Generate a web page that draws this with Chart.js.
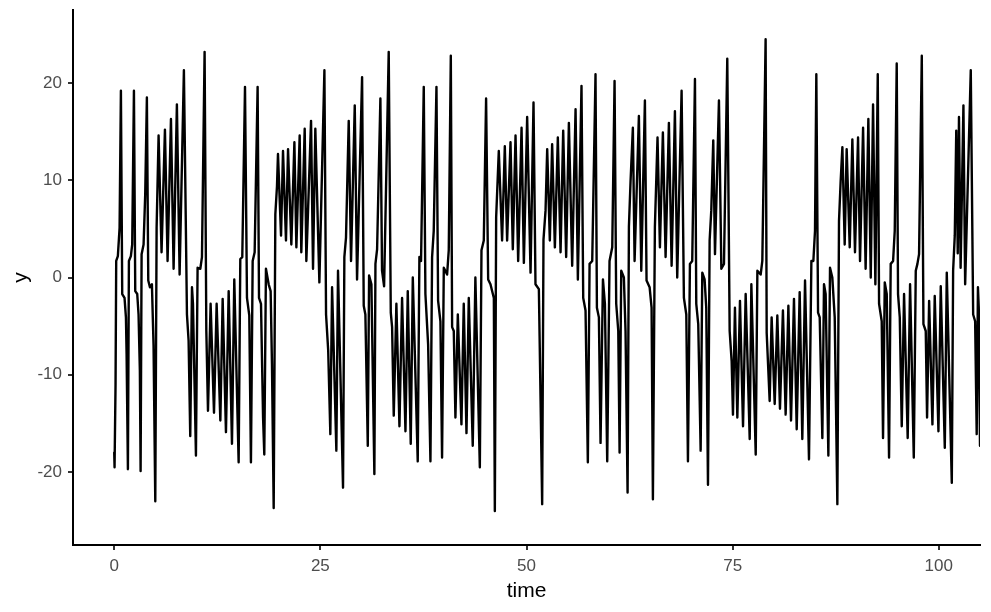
<!DOCTYPE html>
<html>
<head>
<meta charset="utf-8">
<script src="https://cdn.jsdelivr.net/npm/chart.js@4"></script>
<style>
    html, body { margin: 0; padding: 0; background: #ffffff; }
    #chart-wrap { width: 991px; height: 612px; }
</style>
</head>
<body>
<div id="chart-wrap"><canvas id="series-chart" width="991" height="612"></canvas></div>
<script>
// ----------- DATA -----------

const timeValues = [
    0, 0.04, 0.16, 0.24, 0.44, 0.65, 0.81, 0.97, 1.25, 1.42,
    1.5, 1.66, 1.78, 2.02, 2.18, 2.39, 2.55, 2.79, 2.95, 3.11,
    3.2, 3.32, 3.56, 3.76, 3.96, 4.13, 4.33, 4.57, 4.77, 4.98,
    5.14, 5.38, 5.74, 6.15, 6.47, 6.88, 7.2, 7.6, 7.93, 8.45,
    8.82, 9.02, 9.22, 9.43, 9.55, 9.91, 10.11, 10.44, 10.64, 10.96,
    11.17, 11.37, 11.69, 12.1, 12.42, 12.87, 13.15, 13.55, 13.88, 14.28,
    14.56, 15.09, 15.29, 15.53, 15.86, 16.1, 16.38, 16.58, 16.79, 17.03,
    17.39, 17.56, 17.8, 18.05, 18.2, 18.4, 18.73, 18.97, 19.13, 19.34,
    19.54, 19.74, 19.86, 20.23, 20.47, 20.83, 21.08, 21.48, 21.85, 22.09,
    22.49, 22.69, 23.1, 23.3, 23.87, 24.11, 24.39, 24.88, 25.49, 25.69,
    25.95, 26.21, 26.42, 26.94, 27.14, 27.75, 27.91, 28.11, 28.44, 28.72,
    29.17, 29.45, 30.06, 30.26, 30.46, 30.75, 30.91, 31.19, 31.55, 31.68,
    31.88, 32.28, 32.48, 32.73, 33.29, 33.54, 33.7, 33.9, 34.22, 34.59,
    34.91, 35.32, 35.6, 35.96, 36.21, 36.81, 37.01, 37.21, 37.54, 37.74,
    38.07, 38.35, 38.55, 38.75, 39.08, 39.28, 39.56, 39.76, 39.97, 40.37,
    40.57, 40.82, 40.98, 41.18, 41.38, 41.67, 42.11, 42.39, 42.72, 43.0,
    43.48, 43.8, 44.34, 44.54, 44.82, 45.1, 45.35, 45.63, 46.04, 46.16,
    46.32, 46.64, 47.04, 47.37, 47.65, 48.06, 48.34, 48.67, 48.99, 49.4,
    49.68, 50.08, 50.49, 50.85, 51.09, 51.5, 51.9, 52.06, 52.31, 52.51,
    52.83, 53.11, 53.44, 53.8, 54.13, 54.45, 54.81, 55.14, 55.54, 55.95,
    56.23, 56.67, 56.88, 57.16, 57.44, 57.65, 57.97, 58.37, 58.54, 58.78,
    58.98, 59.27, 59.51, 59.79, 60.07, 60.4, 60.68, 60.88, 61.13, 61.29,
    61.49, 61.81, 62.01, 62.26, 62.42, 62.62, 62.9, 63.11, 63.63, 63.92,
    64.36, 64.56, 64.93, 65.17, 65.33, 65.57, 65.89, 66.18, 66.54, 66.87,
    67.27, 67.6, 68.0, 68.28, 68.81, 69.09, 69.38, 69.58, 69.82, 70.1,
    70.43, 70.59, 70.83, 71.12, 71.32, 71.6, 71.8, 72.01, 72.21, 72.41,
    72.65, 72.86, 73.34, 73.63, 73.95, 74.35, 74.64, 74.88, 75.04, 75.28,
    75.57, 75.89, 76.26, 76.58, 77.07, 77.27, 77.8, 78.0, 78.4, 78.6,
    79.0, 79.13, 79.49, 79.73, 80.1, 80.42, 80.74, 81.1, 81.43, 81.76,
    82.08, 82.44, 82.77, 83.13, 83.45, 83.78, 84.26, 84.55, 84.79, 84.99,
    85.15, 85.36, 85.56, 85.88, 86.08, 86.28, 86.61, 86.81, 87.09, 87.38,
    87.7, 87.9, 88.1, 88.31, 88.59, 88.83, 89.2, 89.52, 89.84, 90.21,
    90.45, 90.82, 91.13, 91.46, 91.75, 92.03, 92.31, 92.6, 92.76, 93.08,
    93.24, 93.45, 93.69, 93.97, 94.17, 94.46, 94.66, 94.9, 95.06, 95.27,
    95.51, 95.79, 96.23, 96.52, 96.97, 97.21, 97.41, 97.61, 97.94, 98.14,
    98.42, 98.58, 98.83, 99.23, 99.51, 99.96, 100.24, 100.73, 100.97, 101.58,
    101.74, 101.94, 102.12, 102.3, 102.45, 102.65, 102.99, 103.2, 103.88, 104.17,
    104.41, 104.6, 104.75, 104.85, 105.0
];

const yValues = [
    -18.0, -19.5, -11.0, 1.7, 2.2, 5.1, 19.2, -1.7, -2.1, -4.1,
    -7.9, -19.7, 1.7, 2.2, 3.4, 19.2, -1.4, -1.7, -3.8, -9.6,
    -19.9, 2.4, 3.4, 8.6, 18.5, -0.3, -1.0, -0.7, -7.0, -23.0,
    5.1, 14.6, 2.6, 15.2, 1.7, 16.3, 0.9, 17.8, 0.3, 21.3,
    -3.8, -6.5, -16.3, -1.0, -2.7, -18.3, 1.0, 0.9, 2.1, 23.2,
    -5.5, -13.7, -2.7, -13.9, -2.7, -14.7, -2.2, -15.9, -1.4, -17.1,
    -0.2, -19.0, 1.9, 2.1, 19.6, -2.1, -3.9, -19.0, 1.7, 2.6,
    19.6, -2.1, -2.7, -14.4, -18.2, 0.9, -0.7, -1.4, -8.9, -23.7,
    6.5, 9.4, 12.7, 4.3, 13.0, 3.8, 13.2, 3.4, 13.9, 3.1,
    14.6, 2.6, 15.3, 1.7, 16.1, 0.9, 15.3, -0.5, 21.3, -3.8,
    -7.5, -16.1, -1.0, -17.8, 0.7, -21.6, 2.1, 4.1, 16.1, 1.7,
    17.7, -0.2, 20.6, -2.9, -3.8, -17.3, 0.2, -0.7, -20.2, 1.4,
    2.9, 18.4, 0.7, -0.9, 23.2, -3.6, -5.1, -14.2, -2.7, -15.3,
    -2.1, -15.8, -1.4, -17.1, 0.0, -18.9, 2.1, 1.7, 19.6, -1.7,
    -6.9, -18.9, 2.1, 4.8, 19.6, -2.4, -4.5, -18.5, 1.0, 0.3,
    2.8, 22.8, -5.1, -5.5, -14.4, -3.8, -15.1, -2.7, -16.0, -2.1,
    -17.3, 0.0, -19.5, 2.8, 3.8, 18.4, -0.2, -0.7, -2.1, -24.0,
    6.2, 13.0, 3.8, 13.5, 3.8, 13.9, 2.9, 14.6, 1.7, 15.4,
    1.5, 16.5, 0.5, 18.0, -0.7, -1.2, -23.3, 3.9, 6.9, 13.2,
    3.8, 13.7, 3.1, 14.4, 2.6, 15.1, 2.1, 15.9, 1.2, 17.3,
    -0.2, 19.7, -2.1, -3.4, -19.0, 1.4, 1.7, 20.9, -3.1, -4.1,
    -17.0, -0.2, -2.7, -18.9, 1.7, 3.1, 20.2, -2.7, -5.5, -18.0,
    0.7, 0.0, -5.5, -22.1, 5.2, 9.9, 15.4, 1.7, 16.6, 0.7,
    18.2, -0.3, -1.0, -3.1, -22.8, 5.2, 14.4, 3.1, 14.9, 2.1,
    15.9, 1.2, 17.1, 0.0, 19.2, -2.1, -3.8, -18.9, 1.4, 1.7,
    20.4, -2.7, -4.8, -17.8, 0.5, -0.2, -3.1, -21.3, 3.8, 6.9,
    14.1, 2.4, 18.2, 0.9, 1.4, 22.5, -5.5, -8.6, -14.1, -3.1,
    -14.4, -2.4, -15.3, -1.7, -16.6, -0.7, -18.2, 0.7, 0.3, 1.7,
    24.5, -5.7, -12.7, -4.1, -13.0, -3.9, -13.5, -3.4, -14.1, -2.9,
    -14.7, -2.2, -15.6, -1.5, -16.6, -0.3, -18.7, 1.7, 1.7, 4.8,
    20.9, -3.6, -4.1, -16.5, -0.7, -1.7, -18.3, 1.0, 0.0, -4.1,
    -23.3, 5.8, 9.9, 13.4, 3.4, 13.2, 3.1, 14.2, 2.6, 14.4,
    1.7, 15.4, 0.9, 16.3, 0.0, 17.8, -0.7, 20.9, -2.7, -4.5,
    -16.5, -0.5, -1.7, -18.5, 1.4, 1.7, 4.8, 22.0, -1.7, -4.1,
    -15.3, -1.7, -16.5, -0.7, -18.5, 0.7, 1.4, 2.4, 22.8, -4.8,
    -5.5, -14.4, -2.4, -15.1, -1.9, -15.8, -0.9, -17.5, 0.5, -21.1,
    0.7, 4.3, 15.1, 2.5, 16.5, 1.0, 17.7, -0.7, 21.3, -3.8,
    -4.5, -16.1, -1.0, -3.1, -17.3
];

const xTickValues = [0, 25, 50, 75, 100];
const yTickValues = [-20, -10, 0, 10, 20];

// ----------- CHART -----------

if (timeValues.length !== yValues.length) {
    throw new Error(`length mismatch: ${timeValues.length} vs ${yValues.length}`);
}

const points = timeValues.map((t, i) => ({ x: t, y: yValues[i] }));

Chart.defaults.font.family = "'Liberation Sans', Arial, sans-serif";

const tickFont = { size: 17 };
const titleFont = { size: 21 };

function fixTicks(values) {
    return (scale) => {
        scale.ticks = values.map(v => ({ value: v }));
    };
}

new Chart(document.getElementById('series-chart').getContext('2d'), {
    type: 'line',
    data: {
        datasets: [{
            label: 'y',
            data: points,
            borderColor: '#000000',
            borderWidth: 2.4,
            borderJoinStyle: 'round',
            borderCapStyle: 'round',
            pointRadius: 0,
            tension: 0,
            fill: false,
        }]
    },
    options: {
        responsive: false,
        animation: false,
        devicePixelRatio: 1,
        layout: { padding: { top: 10, right: 11, left: 0, bottom: 0 } },
        plugins: { legend: { display: false }, tooltip: { enabled: false } },
        scales: {
            x: {
                type: 'linear',
                min: -5,
                max: 105,
                afterBuildTicks: fixTicks(xTickValues),
                afterFit: (scale) => {
                    scale.height = 67;
                    scale.paddingLeft = 0;
                    scale.paddingRight = 0;
                },
                grid: { drawOnChartArea: false, drawTicks: true, tickLength: 5, color: '#333333', lineWidth: 2 },
                border: { display: true, color: '#000000', width: 2 },
                ticks: { color: '#4d4d4d', font: tickFont, padding: 6, maxRotation: 0 },
                title: { display: true, text: 'time', color: '#000000', font: titleFont, padding: { top: 0, bottom: 8 } },
            },
            y: {
                type: 'linear',
                min: -27.5,
                max: 27.5,
                afterBuildTicks: fixTicks(yTickValues),
                afterFit: (scale) => {
                    scale.width = 73;
                    scale.paddingTop = 0;
                    scale.paddingBottom = 0;
                },
                grid: { drawOnChartArea: false, drawTicks: true, tickLength: 5, color: '#333333', lineWidth: 2 },
                border: { display: true, color: '#000000', width: 2 },
                ticks: { color: '#4d4d4d', font: tickFont, padding: 6 },
                title: { display: true, text: 'y', color: '#000000', font: titleFont, padding: { top: 8.5, bottom: 0 } },
            }
        }
    }
});
</script>
</body>
</html>
